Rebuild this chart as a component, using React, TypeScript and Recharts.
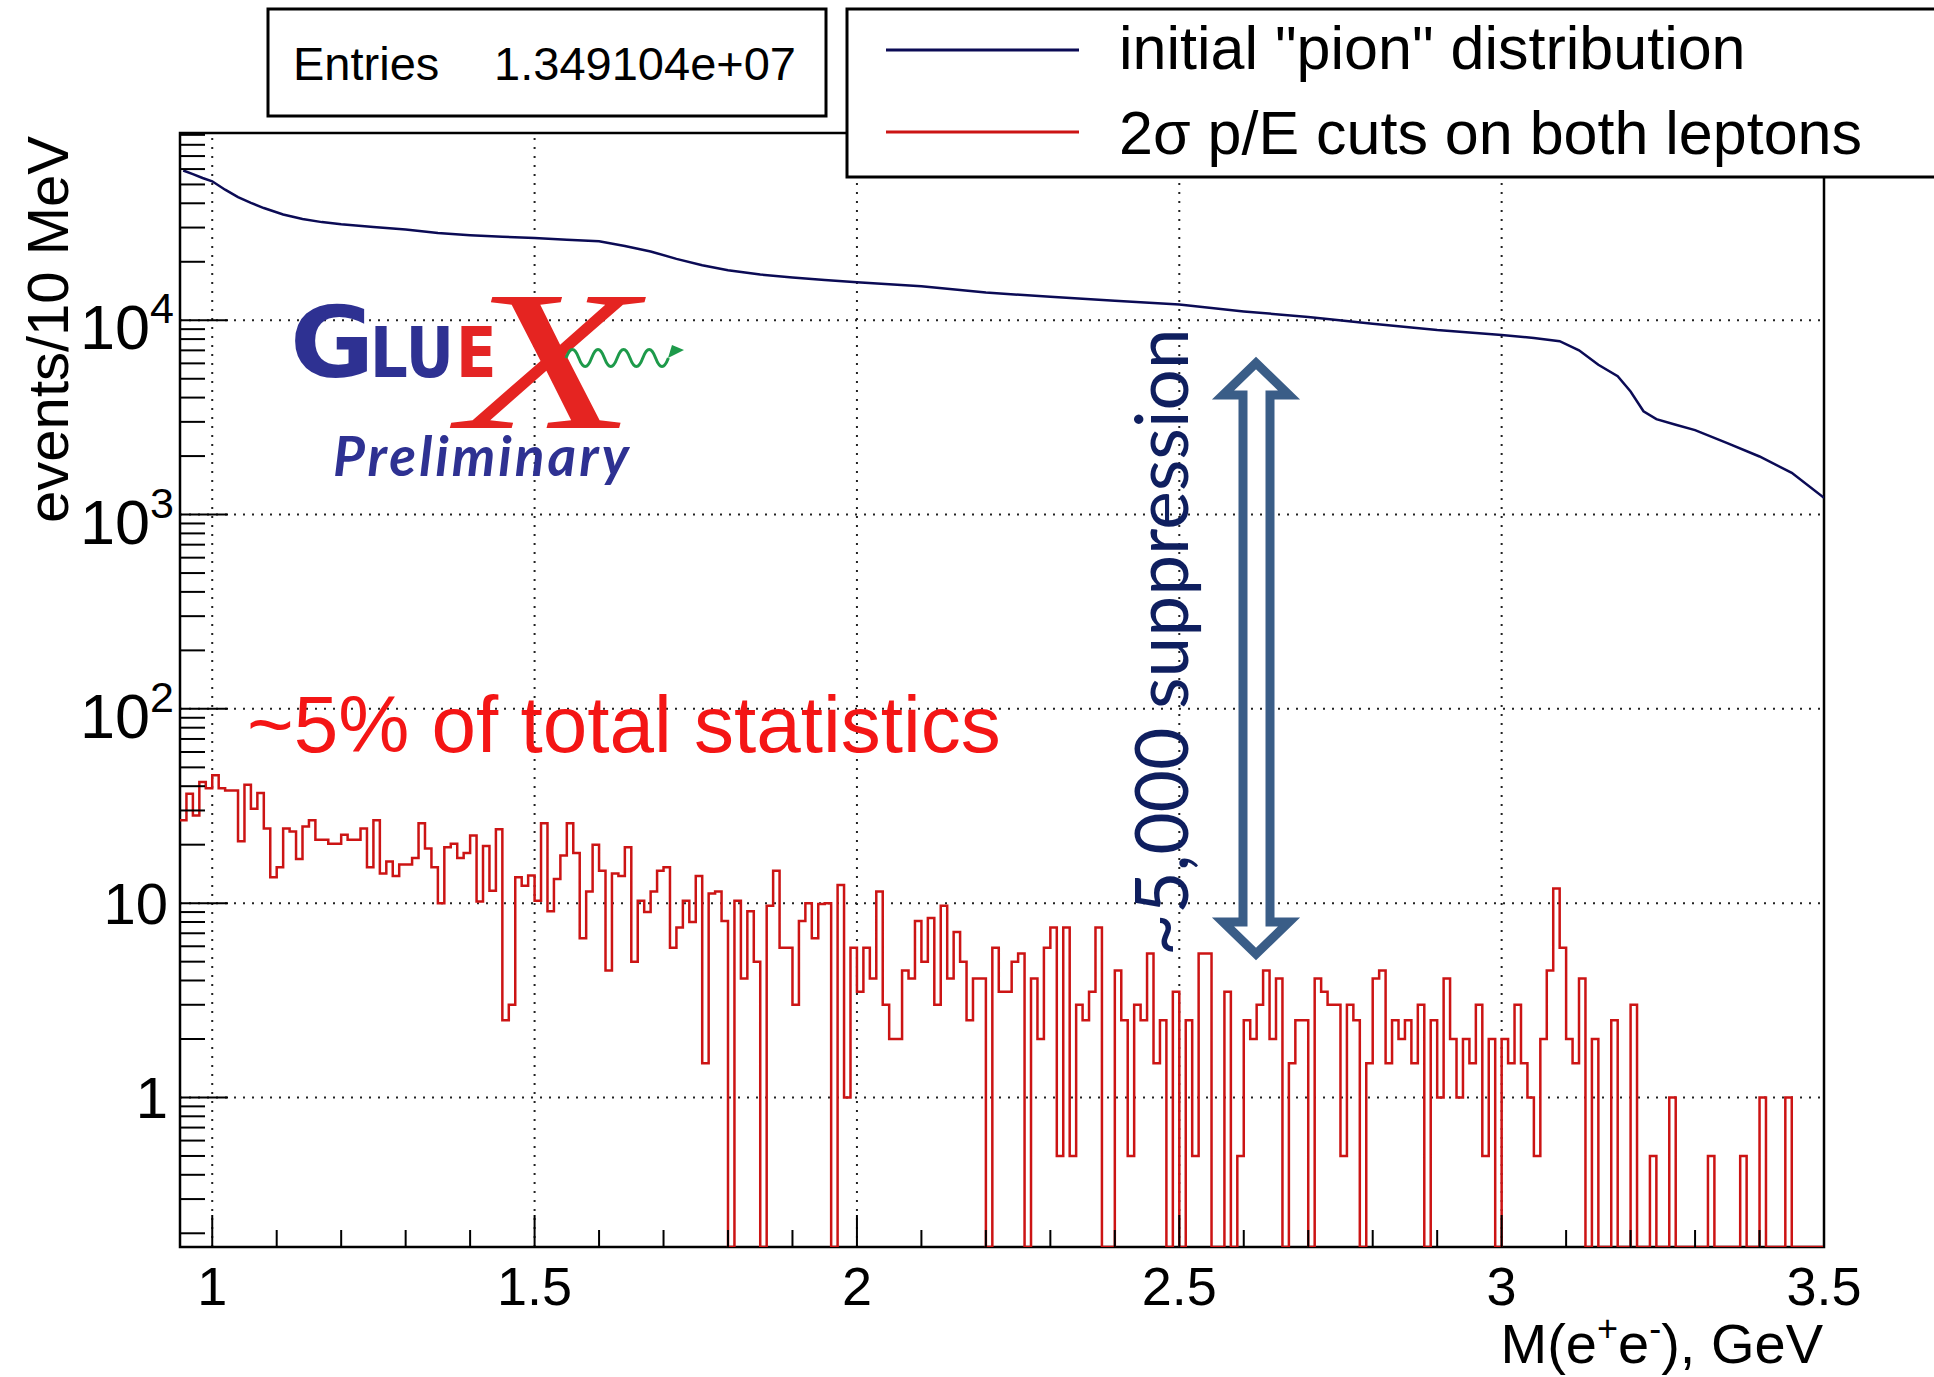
import React from "react";
import { ComposedChart, Line, XAxis, YAxis, ReferenceLine, ReferenceArea } from "recharts";

// ---------- data ----------
const BIN_LOW = 0.95; // GeV, lower edge of first 10 MeV bin
const BIN_WIDTH = 0.01; // GeV
const X_MIN = 0.95;
const X_MAX = 3.5;
const Y_MIN = 0.17;
const Y_MAX = 92000;

// red histogram: "2σ p/E cuts on both leptons" (events / 10 MeV, 255 bins from 0.95 GeV)
const redCounts = [
  26.7, 36.6, 28.3, 42, 39, 45.5, 39, 38, 38, 20.8,
  40.7, 30.6, 36.9, 24.2, 13.6, 15.3, 24.2, 23.4, 16.9, 24.8,
  26.7, 21.2, 21.2, 20.2, 20.2, 22.5, 21.2, 21.2, 24.2, 15.3,
  26.7, 14.2, 16.4, 13.8, 15.8, 15.8, 17.1, 25.8, 19.1, 15.3,
  10, 19.4, 20.2, 17.1, 18.1, 22.3, 10.2, 19.7, 11.6, 24,
  2.5, 3, 13.6, 12.3, 13.9, 10.3, 25.8, 9.1, 13.3, 17.6,
  25.8, 18.1, 6.6, 11.5, 20, 14.7, 4.5, 14.2, 13.8, 19.4,
  5, 10.3, 9, 11.5, 14.7, 15.3, 5.9, 7.5, 10.3, 8,
  13.8, 1.5, 11.2, 11.5, 8.1, 0, 10.3, 4.1, 9.1, 5,
  0, 9.7, 14.7, 5.9, 5.9, 3, 8.1, 10, 6.6, 9.9,
  10, 0, 12.4, 1, 5.9, 3.5, 5.9, 4.1, 11.5, 3,
  2, 2, 4.5, 4.1, 8.1, 5, 8.4, 3, 9.7, 4.1,
  7.1, 5, 2.5, 4.1, 4.1, 0, 5.9, 3.5, 3.5, 5,
  5.5, 0, 4.1, 2, 5.9, 7.5, 0.5, 7.5, 0.5, 3,
  2.5, 3.5, 7.5, 0, 0, 4.5, 2.5, 0.5, 3, 2.5,
  5.5, 1.5, 2.5, 0, 3.5, 0, 2.5, 0.5, 5.5, 5.5,
  0, 0, 3.5, 0, 0.5, 2.5, 2, 3, 4.5, 2,
  4.1, 0, 1.5, 2.5, 2.5, 0, 4.1, 3.5, 3, 3,
  0.5, 3, 2.5, 0, 1.5, 4.1, 4.5, 1.5, 2.5, 2,
  2.5, 1.5, 3, 0, 2.5, 1, 4.1, 2, 1, 2,
  1.5, 3, 0.5, 2, 0, 2, 1.5, 3, 1.5, 1,
  0.5, 2, 4.5, 11.9, 5.9, 2, 1.5, 4.1, 0, 2,
  0, 0, 2.5, 0, 0, 3, 0, 0, 0.5, 0,
  0, 1, 0, 0, 0, 0, 0, 0.5, 0, 0,
  0, 0, 0.5, 0, 0, 1, 0, 0, 0, 1,
  0, 0, 0, 0, 0,
];

// blue curve: initial "pion" distribution, read at these masses (GeV)
const blueMass = [
  0.955, 0.97, 0.985, 1.0, 1.02, 1.04, 1.06, 1.08, 1.11, 1.14, 1.17, 1.2, 1.25, 1.3, 1.35,
  1.4, 1.45, 1.5, 1.55, 1.6, 1.64, 1.68, 1.72, 1.76, 1.8, 1.85, 1.9, 1.95, 2.0, 2.1, 2.2,
  2.3, 2.4, 2.5, 2.6, 2.7, 2.8, 2.9, 3.0, 3.05, 3.09, 3.12, 3.15, 3.18, 3.2, 3.22, 3.24,
  3.27, 3.3, 3.35, 3.4, 3.45, 3.5,
];
const blueCounts = [
  59000, 56500, 54000, 51900, 47000, 43000, 40200, 37800, 35000, 33200, 32000, 31200, 30200, 29300, 28100,
  27400, 26900, 26500, 26000, 25500, 24100, 22600, 20700, 19200, 18100, 17200, 16600, 16100, 15700, 14960, 13900,
  13200, 12600, 12050, 11100, 10400, 9600, 8900, 8400, 8100, 7800, 7000, 5900, 5150, 4300, 3400, 3100,
  2900, 2720, 2330, 1990, 1640, 1220,
];

const xMajorTicks = [1, 1.5, 2, 2.5, 3, 3.5];
const xMinorTicks = [1.1, 1.2, 1.3, 1.4, 1.6, 1.7, 1.8, 1.9, 2.1, 2.2, 2.3, 2.4, 2.6, 2.7, 2.8, 2.9, 3.1, 3.2, 3.3, 3.4];
const xGridValues = [1, 1.5, 2, 2.5, 3];
const yMajorTicks = [1, 10, 100, 1000, 10000];
const yMinorTicks = [
  0.2, 0.3, 0.4, 0.5, 0.6, 0.7, 0.8, 0.9,
  2, 3, 4, 5, 6, 7, 8, 9,
  20, 30, 40, 50, 60, 70, 80, 90,
  200, 300, 400, 500, 600, 700, 800, 900,
  2000, 3000, 4000, 5000, 6000, 7000, 8000, 9000,
  20000, 30000, 40000, 50000, 60000, 70000, 80000, 90000,
];
const yGridValues = [1, 10, 100, 1000, 10000];

const xAxisTitle = "M(e";
const yAxisTitle = "events/10 MeV";
const entriesLabel = "Entries";
const entriesValue = "1.349104e+07";
const legendLabels = ['initial "pion" distribution', "2σ p/E cuts on both leptons"];
const statNote = "~5% of total statistics";
const suppressionNote = "~5,000 suppression";

// tables built from the arrays
const redTable = redCounts.map((c, k) => ({ x: BIN_LOW + k * BIN_WIDTH, y: c > 0 ? c : Y_MIN }));
redTable.push({ x: BIN_LOW + redCounts.length * BIN_WIDTH, y: redTable[redTable.length - 1].y });
const blueTable = blueMass.map((m, i) => ({ x: m, y: blueCounts[i] }));

// ---------- styles ----------
const W = 1934;
const H = 1377;
const SANS = "'Liberation Sans', Arial, Helvetica, sans-serif";
const LOGO_SANS = "'DejaVu Sans', sans-serif";
const HUMANIST = "Lato, 'Open Sans', sans-serif";
const BLUE = "#0b0b55";
const RED = "#cc1414";
const GRID = { stroke: "#222", strokeWidth: 2, strokeDasharray: "2 7" };

const XTick = (props: any) => {
  const { x, y, payload } = props;
  const v = payload.value;
  const major = xMajorTicks.includes(v);
  const len = major ? 32 : 17;
  return (
    <g>
      <line x1={x} y1={y} x2={x} y2={y - len} stroke="#000" strokeWidth={2} />
      {major && (
        <text x={x} y={y + 58} textAnchor="middle" fontSize={54} fontFamily={SANS} fill="#000">
          {String(v)}
        </text>
      )}
    </g>
  );
};

const YTick = (props: any) => {
  const { x, y, payload } = props;
  const v = payload.value;
  const major = yMajorTicks.includes(v);
  const len = major ? 48 : 25;
  let label: any = null;
  if (major) {
    if (v < 100) {
      label = (
        <text x={x - 12} y={y + 21} textAnchor="end" fontSize={58} fontFamily={SANS} fill="#000">
          {String(v)}
        </text>
      );
    } else {
      const e = Math.round(Math.log10(v));
      label = (
        <text x={x - 6} y={y + 29} textAnchor="end" fontSize={63} fontFamily={SANS} fill="#000">
          <tspan>10</tspan>
          <tspan dy={-26} fontSize={43}>{String(e)}</tspan>
        </text>
      );
    }
  }
  return (
    <g>
      <line x1={x} y1={y} x2={x + len} y2={y} stroke="#000" strokeWidth={2} />
      {label}
    </g>
  );
};

const Overlay = () => (
  <svg
    width={W}
    height={H}
    style={{ position: "absolute", left: 0, top: 0, pointerEvents: "none" }}
  >
    {/* stats box */}
    <rect x={268} y={9} width={558} height={107} fill="#fff" stroke="#000" strokeWidth={3} />
    <text x={293} y={80} fontSize={47} fontFamily={SANS} fill="#000">{entriesLabel}</text>
    <text x={796} y={80} fontSize={47} fontFamily={SANS} fill="#000" textAnchor="end">{entriesValue}</text>

    {/* legend */}
    <rect x={847} y={9} width={1100} height={168} fill="#fff" stroke="#000" strokeWidth={3} />
    <line x1={886} x2={1079} y1={50} y2={50} stroke={BLUE} strokeWidth={3} />
    <line x1={886} x2={1079} y1={132} y2={132} stroke={RED} strokeWidth={3} />
    <text x={1119} y={69} fontSize={61} fontFamily={SANS} fill="#000">{legendLabels[0]}</text>
    <text x={1119} y={154} fontSize={61} fontFamily={SANS} fill="#000">{legendLabels[1]}</text>

    {/* axis titles */}
    <text transform="translate(68,136) rotate(-90)" textAnchor="end" fontSize={58} fontFamily={SANS} fill="#000">
      {yAxisTitle}
    </text>
    <text x={1823} y={1363} textAnchor="end" fontSize={56} fontFamily={SANS} fill="#000">
      <tspan>{xAxisTitle}</tspan>
      <tspan dy={-22} fontSize={36}>+</tspan>
      <tspan dy={22}>e</tspan>
      <tspan dy={-22} fontSize={36}>-</tspan>
      <tspan dy={22}>), GeV</tspan>
    </text>

    {/* GlueX logo */}
    <text x={0} y={0} transform="translate(290,377) scale(1.05,1)" fontSize={98} fontWeight="bold" fontFamily={LOGO_SANS} fill="#2e3192">G</text>
    <text x={0} y={0} transform="translate(370,377) scale(0.86,1)" fontSize={69} fontWeight="bold" fontFamily={LOGO_SANS} fill="#2e3192">LU</text>
    <text x={0} y={0} transform="translate(456,377) scale(0.86,1)" fontSize={69} fontWeight="bold" fontFamily={LOGO_SANS} fill="#e42525">E</text>
    <text x={0} y={0} transform="translate(548,428) scale(1.45,1)" textAnchor="middle" fontSize={200} fontStyle="italic" fontFamily="'Liberation Serif', serif" fill="#e52421">X</text>
    <path
      d="M 566 358 q 6.4 -17 12.8 0 t 12.8 0 t 12.8 0 t 12.8 0 t 12.8 0 t 12.8 0 t 12.8 0 t 12.8 0"
      fill="none"
      stroke="#1d9a4a"
      strokeWidth={3}
    />
    <path d="M 668 358 L 684 350 L 672 345 Z" fill="#1d9a4a" />
    <text x={333} y={476} fontSize={55} fontWeight="bold" fontStyle="italic" fontFamily={HUMANIST} fill="#2e3192" letterSpacing={3}>
      Preliminary
    </text>

    {/* annotations */}
    <text x={247} y={752} fontSize={80} fontFamily={SANS} fill="#f41515">{statNote}</text>
    <text transform="translate(1188,956) rotate(-90)" fontSize={73} fontFamily={HUMANIST} fill="#0f1f5f">
      {suppressionNote}
    </text>
    <polygon
      points="1256,363 1289,395 1270,395 1270,922 1289,922 1256,954 1223,922 1243,922 1243,395 1223,395"
      fill="none"
      stroke="#3a5d87"
      strokeWidth={9}
      strokeLinejoin="miter"
    />
  </svg>
);

export default function App() {
  return (
    <div style={{ position: "absolute", left: 0, top: 0, width: W, height: H, background: "#fff" }}>
      <ComposedChart width={W} height={H} margin={{ top: 133, right: 110, bottom: 10, left: 10 }}>
        <XAxis
          type="number"
          dataKey="x"
          domain={[X_MIN, X_MAX]}
          allowDataOverflow
          ticks={[...xMajorTicks, ...xMinorTicks]}
          interval={0}
          tickSize={0}
          tickMargin={0}
          tickLine={false}
          axisLine={false}
          tick={(p: any) => <XTick {...p} />}
          height={120}
        />
        <YAxis
          type="number"
          scale="log"
          domain={[Y_MIN, Y_MAX]}
          allowDataOverflow
          ticks={[...yMajorTicks, ...yMinorTicks]}
          interval={0}
          tickSize={0}
          tickMargin={0}
          tickLine={false}
          axisLine={false}
          tick={(p: any) => <YTick {...p} />}
          width={170}
        />
        {yGridValues.map((v) => (
          <ReferenceLine key={"gy" + v} y={v} {...GRID} />
        ))}
        {xGridValues.map((v) => (
          <ReferenceLine key={"gx" + v} x={v} {...GRID} />
        ))}
        <ReferenceArea x1={X_MIN} x2={X_MAX} y1={Y_MIN} y2={Y_MAX} fill="none" stroke="#000" strokeWidth={2.5} />
        <Line
          data={blueTable}
          dataKey="y"
          type="linear"
          stroke={BLUE}
          strokeWidth={2.5}
          dot={false}
          isAnimationActive={false}
        />
        <Line
          data={redTable}
          dataKey="y"
          type="stepAfter"
          stroke={RED}
          strokeWidth={2.5}
          dot={false}
          isAnimationActive={false}
        />
      </ComposedChart>
      <Overlay />
    </div>
  );
}
